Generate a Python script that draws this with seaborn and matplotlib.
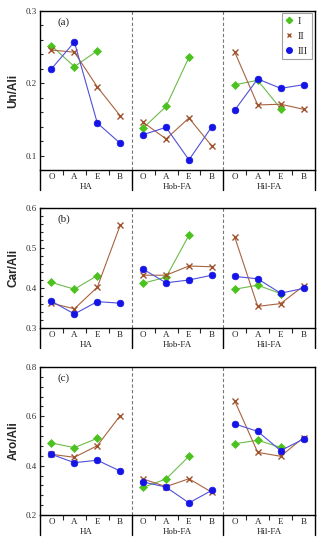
import numpy as np
import pandas as pd
import matplotlib
matplotlib.use("Agg")
import matplotlib.pyplot as plt
from matplotlib.lines import Line2D
from matplotlib.ticker import MultipleLocator
import seaborn as sns

# ---- data ----
groups = ["HA", "Hob-FA", "Hil-FA"]
horizons = ["O", "A", "E", "B"]
series_names = ["I", "II", "III"]
nan = np.nan

# (a) Un/Ali
un_I = [0.252, 0.223, 0.245, nan, 0.138, 0.168, 0.236, nan, 0.198, 0.204, 0.165, nan]
un_II = [0.246, 0.243, 0.195, 0.155, 0.146, 0.123, 0.152, 0.113, 0.243, 0.170, 0.171, 0.164]
un_III = [0.220, 0.257, 0.145, 0.117, 0.129, 0.139, 0.094, 0.140, 0.163, 0.206, 0.193, 0.198]

# (b) Car/Ali
car_I = [0.414, 0.397, 0.431, nan, 0.412, 0.427, 0.532, nan, 0.397, 0.407, 0.386, nan]
car_II = [0.362, 0.348, 0.402, 0.557, 0.432, 0.432, 0.455, 0.453, 0.527, 0.354, 0.361, 0.405]
car_III = [0.367, 0.335, 0.366, 0.362, 0.447, 0.413, 0.420, 0.432, 0.429, 0.423, 0.387, 0.399]

# (c) Aro/Ali
aro_I = [0.492, 0.473, 0.511, nan, 0.312, 0.346, 0.438, nan, 0.489, 0.503, 0.474, nan]
aro_II = [0.446, 0.434, 0.481, 0.603, 0.346, 0.315, 0.347, 0.292, 0.662, 0.454, 0.438, 0.514]
aro_III = [0.446, 0.412, 0.422, 0.378, 0.334, 0.313, 0.249, 0.300, 0.569, 0.539, 0.461, 0.508]

panels = [
    ("(a)", "Un/Ali", [un_I, un_II, un_III], (0.08, 0.3), 0.1, 0.02),
    ("(b)", "Car/Ali", [car_I, car_II, car_III], (0.3, 0.6), 0.1, 0.02),
    ("(c)", "Aro/Ali", [aro_I, aro_II, aro_III], (0.2, 0.8), 0.2, 0.04),
]

# ---- styling ----
sns.set_style("ticks")
plt.rcParams["font.family"] = ["Liberation Serif", "DejaVu Serif"]

marker_col = {"I": "#4cc21f", "II": "#a0522d", "III": "#1414e6"}
line_col = {"I": "#6dbb4a", "II": "#a8633f", "III": "#5050d8"}
markers = {"I": "D", "II": "x", "III": "o"}
msize = {"I": 4.0, "II": 4.0, "III": 4.8}

# axes boxes in pixels (left, top, right, bottom) of a 326x550 figure
W, H = 326, 550
boxes = [(40, 11, 315, 170), (40, 208, 315, 328), (40, 367, 315, 515)]

fig = plt.figure(figsize=(W / 100, H / 100), dpi=100)

for (tag, ylab, values, ylim, major, minor), (l, t, r, b) in zip(panels, boxes):
    ax = fig.add_axes([l / W, 1 - b / H, (r - l) / W, (b - t) / H])
    ax_h = b - t

    # long table for seaborn
    rows = []
    for s, vals in zip(series_names, values):
        for i, v in enumerate(vals):
            if not np.isnan(v):
                rows.append({"series": s, "group": groups[i // 4],
                             "horizon": horizons[i % 4], "x": i + 0.5, "value": v})
    df = pd.DataFrame(rows)

    for s in series_names:
        sub = df[df["series"] == s]
        sns.lineplot(data=sub, x="x", y="value", units="group", estimator=None,
                     color=line_col[s], lw=0.8, marker=markers[s],
                     markersize=msize[s], markerfacecolor=marker_col[s],
                     markeredgecolor=marker_col[s], markeredgewidth=1.0 if s == "II" else 0.5,
                     ax=ax, legend=False, zorder=3)

    ax.set_xlim(0, 12)
    ax.set_ylim(*ylim)
    ax.set_xlabel("")
    ax.set_ylabel(ylab, fontsize=8.5, fontweight="bold",
                  family=["Liberation Sans", "DejaVu Sans"])
    ax.yaxis.set_label_coords(-0.075, 0.5)

    for sp in ax.spines.values():
        sp.set_linewidth(1.0)
        sp.set_color("black")

    # y ticks
    ax.yaxis.set_major_locator(MultipleLocator(major))
    ax.yaxis.set_minor_locator(MultipleLocator(minor))
    ax.tick_params(axis="y", which="major", direction="in", length=3, width=0.8,
                   labelsize=6.5, labelcolor="#333333", pad=2)
    ax.tick_params(axis="y", which="minor", direction="in", length=2.5, width=0.8)

    # x ticks: short marks between horizons, labels at horizon centres
    ax.set_xticks([1, 2, 3, 5, 6, 7, 9, 10, 11])
    ax.set_xticklabels([])
    ax.set_xticks([i + 0.5 for i in range(12)], minor=True)
    ax.set_xticklabels(horizons * 3, minor=True)
    ax.tick_params(axis="x", which="major", direction="out", length=3.5, width=0.8)
    ax.tick_params(axis="x", which="minor", length=0, labelsize=6.5, pad=2,
                   labelcolor="#222222")

    # separators: dashed inside, solid below the axis
    frac = 20 / ax_h
    for xs in [4, 8]:
        ax.axvline(xs, color="#777777", ls=(0, (3, 2)), lw=0.8, zorder=1)
    for xs in [0, 4, 8, 12]:
        ax.plot([xs, xs], [0, -frac], color="black", lw=1.0,
                transform=ax.get_xaxis_transform(), clip_on=False)

    for g, name in enumerate(groups):
        ax.text(4 * g + 2, -17 / ax_h, name, transform=ax.get_xaxis_transform(),
                ha="center", va="center", fontsize=6.5, color="#222222")

    ax.text(0.065, 1 - 11 / ax_h, tag, transform=ax.transAxes, fontsize=8,
            ha="left", va="center")

    if tag == "(a)":
        handles = [Line2D([], [], ls="none", marker=markers[s], color=marker_col[s],
                          markersize=msize[s] - 0.8, markeredgewidth=1.0)
                   for s in series_names]
        leg = ax.legend(handles, series_names, loc="upper right",
                        bbox_to_anchor=(0.988, 0.99), borderaxespad=0,
                        fontsize=7.5, frameon=True, fancybox=False,
                        handlelength=0.7, handletextpad=0.5, borderpad=0.35,
                        labelspacing=0.55)
        leg.get_frame().set_edgecolor("#888888")
        leg.get_frame().set_linewidth(0.8)

fig.savefig("out.png", dpi=100)
